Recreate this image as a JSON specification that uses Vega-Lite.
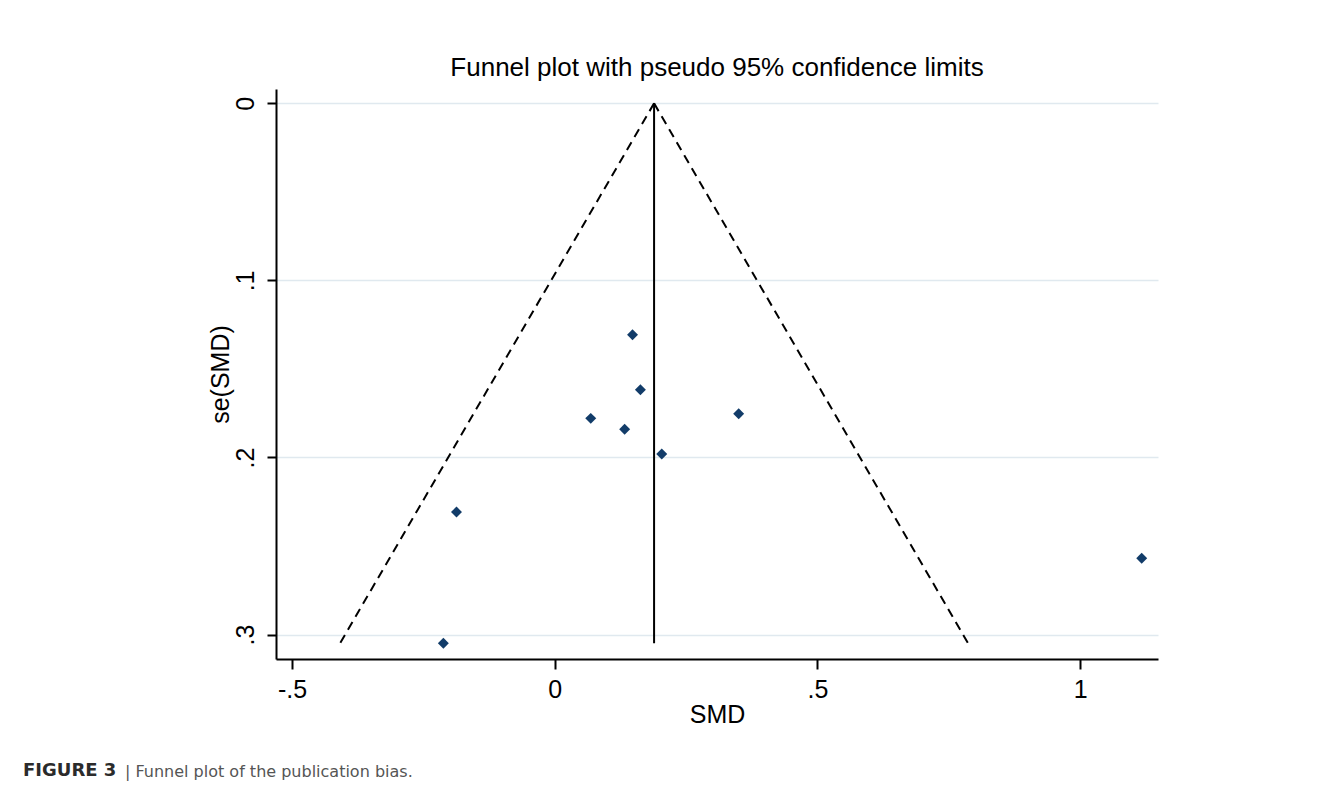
{
  "$schema": "https://vega.github.io/schema/vega-lite/v6.json",
  "background": "white",
  "padding": {"left": 23, "top": 55, "right": 10, "bottom": 5},
  "config": {
    "view": {"stroke": null},
    "font": "Liberation Sans",
    "concat": {"spacing": 0},
    "axis": {
      "domainColor": "#000000",
      "domainWidth": 2,
      "tickColor": "#000000",
      "tickWidth": 2,
      "labelFont": "Liberation Sans",
      "labelFontSize": 25,
      "labelColor": "#000000",
      "titleFont": "Liberation Sans",
      "titleFontSize": 25,
      "titleFontWeight": "normal",
      "titleColor": "#000000"
    }
  },
  "datasets": {
    "studies": [
      {"smd": 0.148, "se": 0.1307},
      {"smd": 0.163, "se": 0.1617},
      {"smd": 0.350, "se": 0.1753},
      {"smd": 0.0685, "se": 0.1779},
      {"smd": 0.133, "se": 0.1841},
      {"smd": 0.2036, "se": 0.1980},
      {"smd": -0.187, "se": 0.2308},
      {"smd": 1.117, "se": 0.2569},
      {"smd": -0.212, "se": 0.3049}
    ],
    "limits": [
      {"smd": 0.189, "se": 0, "smd2": -0.4085, "se2": 0.3049},
      {"smd": 0.189, "se": 0, "smd2": 0.7865, "se2": 0.3049}
    ],
    "pooled": [
      {"smd": 0.189, "se": 0, "se2": 0.3049}
    ]
  },
  "title": {
    "text": "FIGURE 3",
    "orient": "bottom",
    "anchor": "start",
    "font": "DejaVu Sans",
    "fontSize": 18,
    "fontWeight": "bold",
    "color": "#2b2b2b",
    "baseline": "alphabetic",
    "dx": -102,
    "offset": -4
  },
  "vconcat": [
    {
      "title": {
        "text": "|  Funnel plot of the publication bias.",
        "orient": "bottom",
        "anchor": "start",
        "font": "DejaVu Sans",
        "fontSize": 16,
        "fontWeight": "normal",
        "color": "#555555",
        "baseline": "alphabetic",
        "dx": -83,
        "offset": 50
      },
      "vconcat": [
        {
          "width": 882,
          "height": 570,
          "title": {
            "text": "Funnel plot with pseudo 95% confidence limits",
            "font": "Liberation Sans",
            "fontSize": 26,
            "fontWeight": "normal",
            "color": "#000000",
            "anchor": "middle",
            "frame": "group",
            "baseline": "alphabetic",
            "offset": -13
          },
          "encoding": {
            "x": {
              "field": "smd",
              "type": "quantitative",
              "scale": {"domain": [-0.5305, 1.148], "nice": false, "zero": false},
              "axis": {
                "title": "SMD",
                "values": [-0.5, 0, 0.5, 1],
                "labelExpr": "datum.value == -0.5 ? '-.5' : datum.value == 0.5 ? '.5' : datum.value == 0 ? '0' : '1'",
                "grid": false,
                "tickSize": 10,
                "labelPadding": 8,
                "titlePadding": 0
              }
            },
            "y": {
              "field": "se",
              "type": "quantitative",
              "scale": {"domain": [-0.0081, 0.3138], "nice": false, "zero": false, "reverse": true},
              "axis": {
                "title": "se(SMD)",
                "values": [0, 0.1, 0.2, 0.3],
                "labelExpr": "datum.value == 0 ? '0' : datum.value == 0.1 ? '.1' : datum.value == 0.2 ? '.2' : '.3'",
                "grid": true,
                "gridColor": "#e0e9ef",
                "gridWidth": 1.5,
                "tickSize": 9,
                "labelAngle": -90,
                "labelAlign": "center",
                "labelBaseline": "alphabetic",
                "labelPadding": 14,
                "titlePadding": 0
              }
            }
          },
          "layer": [
            {
              "data": {"name": "limits"},
              "mark": {"type": "rule", "color": "#000000", "strokeWidth": 2, "strokeDash": [9, 6]},
              "encoding": {
                "x2": {"field": "smd2"},
                "y2": {"field": "se2"}
              }
            },
            {
              "data": {"name": "pooled"},
              "mark": {"type": "rule", "color": "#000000", "strokeWidth": 2},
              "encoding": {
                "y2": {"field": "se2"}
              }
            },
            {
              "data": {"name": "studies"},
              "mark": {"type": "point", "shape": "diamond", "filled": true, "size": 120, "color": "#123c69", "opacity": 1},
              "encoding": {}
            }
          ]
        }
      ]
    }
  ]
}
